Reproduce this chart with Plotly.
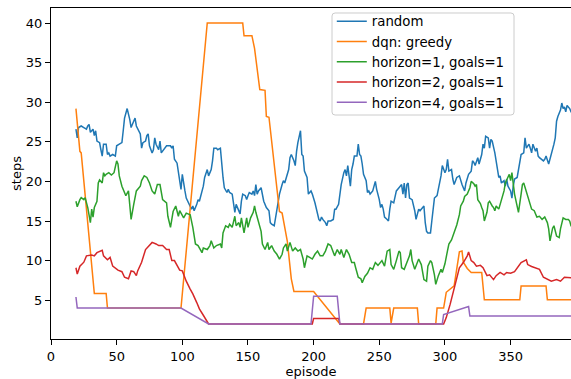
import plotly.graph_objects as go

# ---------------- data (rolling-mean steps per episode) ----------------
random_x = [19, 20, 21, 23, 25, 27, 28, 29, 30, 32, 33, 34, 35, 37, 38, 39, 40, 42, 43, 44, 45, 47, 49, 50, 52, 54, 55, 56, 58, 59,
            60, 61, 63, 64, 65, 67, 68, 69, 70, 72, 73, 74, 75, 77, 78, 79, 80, 82, 83, 84, 86, 87, 88, 91, 92, 93, 94, 96, 97, 98,
            99, 100, 101, 102, 103, 105, 107, 108, 109, 111, 112, 113, 115, 116, 117, 118, 119, 120, 122, 123, 124, 126, 127, 129,
            130, 131, 132, 134, 135, 136, 138, 139, 140, 141, 143, 144, 145, 146, 148, 149, 150, 151, 153, 154, 155, 156, 157, 158,
            160, 161, 162, 164, 166, 167, 168, 170, 171, 173, 174, 176, 177, 178, 179, 181, 182, 183, 185, 186, 187, 188, 190, 191,
            192, 193, 195, 196, 198, 199, 201, 202, 204, 205, 206, 207, 209, 210, 211, 213, 215, 216, 217, 219, 220, 221, 223, 224,
            225, 226, 228, 229, 230, 231, 233, 234, 235, 236, 237, 238, 240, 241, 242, 243, 245, 247, 248, 249, 250, 251, 252, 253,
            254, 256, 257, 258, 259, 261, 262, 263, 265, 266, 267, 268, 269, 270, 271, 272, 273, 275, 276, 277, 278, 280, 281, 282,
            284, 285, 286, 287, 289, 290, 291, 292, 294, 295, 296, 297, 298, 300, 301, 302, 303, 305, 306, 307, 309, 311, 313, 315,
            316, 318, 320, 321, 322, 323, 325, 326, 328, 329, 330, 331, 333, 334, 335, 336, 338, 339, 340, 341, 342, 343, 345, 346,
            347, 348, 350, 351, 352, 353, 355, 356, 357, 358, 360, 361, 362, 364, 365, 366, 367, 369, 370, 371, 372, 374, 375, 376,
            377, 379, 380, 381, 383, 384, 385, 386, 388, 389, 390, 391, 392, 393, 395, 396, 399]
random_y = [26.6, 25.5, 26.8, 27.0, 26.8, 26.6, 27.0, 27.2, 26.2, 26.6, 25.8, 26.4, 25.1, 24.9, 24.0, 23.2, 24.7, 24.7, 23.4, 23.6,
            23.2, 23.4, 23.2, 24.5, 24.7, 24.9, 26.4, 28.0, 29.2, 28.6, 27.8, 26.8, 27.6, 28.0, 27.0, 26.4, 26.0, 24.2, 24.9, 25.1,
            25.8, 26.0, 24.5, 23.6, 24.0, 25.5, 24.7, 24.0, 25.1, 23.6, 24.0, 24.2, 24.5, 24.5, 24.2, 24.5, 22.8, 22.3, 21.3, 20.4,
            19.0, 20.9, 19.6, 18.8, 17.9, 17.1, 16.5, 16.9, 16.3, 17.1, 17.7, 17.5, 18.8, 19.4, 20.5, 20.9, 21.5, 20.7, 21.5, 22.6,
            24.2, 24.2, 24.0, 24.2, 22.1, 20.5, 19.2, 18.6, 19.0, 18.6, 18.4, 17.1, 16.1, 17.1, 16.3, 15.9, 17.5, 18.4, 18.2, 17.7,
            18.2, 18.6, 18.4, 18.8, 18.2, 19.6, 18.4, 18.8, 19.2, 18.4, 17.5, 16.7, 16.3, 14.8, 14.6, 14.4, 15.5, 17.5, 18.4, 19.6,
            20.1, 19.8, 20.3, 21.5, 23.0, 23.4, 22.6, 22.0, 23.8, 24.9, 26.4, 23.4, 23.2, 21.3, 20.5, 18.4, 18.8, 18.4, 17.3, 16.5,
            15.2, 15.0, 15.5, 15.2, 14.8, 14.4, 15.0, 15.0, 15.2, 16.5, 16.5, 17.1, 18.4, 19.6, 21.1, 21.5, 20.7, 22.0, 19.4, 21.5,
            22.2, 23.2, 23.2, 24.7, 23.4, 23.2, 22.2, 20.9, 20.1, 18.6, 18.8, 18.4, 18.8, 20.0, 19.0, 18.4, 17.7, 16.7, 17.1, 16.5,
            15.5, 15.2, 15.0, 16.5, 17.5, 17.3, 17.9, 18.8, 19.2, 19.4, 19.6, 18.4, 19.8, 17.9, 19.6, 19.8, 17.9, 17.7, 17.1, 16.3,
            15.2, 16.5, 16.3, 16.5, 16.9, 14.8, 13.7, 13.5, 13.5, 15.0, 16.5, 17.9, 18.2, 19.0, 20.1, 20.7, 22.0, 21.1, 21.5, 22.8,
            21.3, 21.5, 20.3, 19.6, 20.5, 20.7, 19.6, 18.8, 19.8, 20.9, 21.3, 22.6, 22.4, 22.0, 23.0, 22.2, 23.4, 24.7, 24.2, 25.7,
            25.5, 24.2, 25.3, 25.1, 23.6, 22.6, 22.0, 20.5, 20.7, 19.8, 20.1, 19.4, 20.3, 19.4, 18.8, 17.9, 19.4, 20.3, 20.5, 21.5,
            22.2, 23.4, 23.6, 25.5, 24.2, 24.7, 24.2, 23.6, 24.7, 23.8, 24.2, 23.2, 23.0, 22.8, 22.6, 22.8, 23.2, 22.2, 22.8, 23.2,
            24.7, 25.5, 27.6, 28.2, 29.0, 29.9, 29.2, 29.4, 28.8, 29.6, 29.2, 28.8, 29.0]

dqn_x = [19, 22, 23, 33, 42, 43, 99, 119, 146, 147, 153, 155, 159, 163, 164, 166, 174, 176, 180, 183, 185, 200, 220, 238, 240,
         258, 259, 261, 279, 280, 293, 294, 299, 301, 307, 309, 311, 313, 314, 317, 320, 328, 330, 357, 358, 377, 378, 399]
dqn_y = [29.2, 23.8, 23.6, 5.85, 5.85, 4.0, 4.0, 40.0, 40.0, 38.4, 38.4, 36.8, 31.6, 31.5, 28.2, 28.1, 16.2, 16.0, 12.4, 7.7,
         6.1, 6.1, 2.0, 2.0, 4.0, 4.0, 2.1, 4.0, 4.0, 2.0, 2.0, 4.0, 4.0, 6.0, 6.8, 8.9, 11.1, 11.2, 9.8, 9.0, 8.5, 8.5, 5.05,
         5.05, 6.8, 6.8, 5.05, 5.05]

h1_x = [19, 20, 22, 23, 25, 26, 28, 30, 31, 32, 33, 35, 36, 37, 39, 40, 41, 42, 44, 46, 48, 50, 51, 52, 54, 56, 57, 59, 60, 61,
        63, 65, 68, 69, 71, 73, 75, 77, 79, 81, 83, 85, 88, 89, 91, 93, 95, 97, 98, 101, 103, 106, 108, 110, 112, 115, 116, 119,
        121, 122, 124, 126, 129, 130, 131, 133, 135, 136, 138, 140, 141, 143, 144, 145, 147, 149, 150, 152, 154, 155, 156, 158,
        160, 161, 163, 165, 166, 168, 170, 172, 174, 176, 177, 179, 180, 182, 184, 186, 188, 190, 192, 193, 195, 197, 199, 201,
        203, 205, 207, 209, 211, 213, 215, 216, 218, 220, 221, 223, 225, 227, 229, 231, 232, 234, 236, 237, 239, 241, 243, 245,
        247, 249, 252, 254, 256, 258, 259, 261, 263, 265, 266, 267, 269, 271, 273, 274, 275, 277, 279, 280, 282, 284, 286, 287,
        289, 290, 292, 293, 295, 297, 298, 300, 302, 303, 305, 307, 308, 309, 311, 312, 314, 315, 317, 319, 320, 322, 323, 324,
        325, 327, 328, 329, 330, 332, 333, 334, 336, 337, 338, 339, 341, 342, 343, 345, 346, 348, 349, 350, 351, 353, 356, 358,
        359, 360, 362, 364, 366, 368, 370, 372, 374, 376, 378, 379, 380, 382, 383, 385, 387, 388, 390, 392, 394, 395, 396, 399]
h1_y = [17.5, 16.8, 17.7, 17.95, 17.7, 17.95, 16.7, 14.8, 16.5, 15.5, 16.7, 17.5, 19.8, 20.2, 19.8, 21.1, 20.7, 20.9, 21.1, 20.8,
        21.1, 22.6, 22.2, 20.7, 19.4, 18.4, 18.2, 18.8, 16.9, 15.2, 17.1, 18.8, 19.4, 20.1, 20.7, 20.5, 19.8, 18.8, 18.4, 19.6,
        19.6, 17.7, 17.3, 15.6, 14.2, 16.2, 16.9, 15.6, 16.3, 15.4, 16.0, 15.8, 14.2, 12.1, 11.9, 11.0, 11.6, 11.4, 11.9, 12.5,
        11.6, 11.9, 12.1, 11.6, 13.5, 14.4, 14.2, 14.6, 14.2, 15.6, 14.4, 14.8, 14.2, 15.4, 13.5, 15.4, 14.2, 15.4, 16.1, 16.9,
        16.1, 14.8, 13.7, 12.1, 11.4, 12.3, 11.4, 11.9, 11.2, 10.8, 10.2, 10.8, 11.6, 12.1, 11.2, 12.3, 11.2, 11.6, 11.2, 11.4,
        10.2, 9.1, 10.6, 10.4, 10.2, 10.8, 11.2, 10.6, 10.6, 11.2, 12.1, 11.9, 11.0, 10.6, 11.4, 10.8, 11.4, 10.4, 11.4, 10.8,
        9.75, 9.75, 9.1, 7.9, 7.7, 7.2, 8.0, 8.4, 9.1, 8.9, 9.75, 9.4, 10.0, 9.3, 11.2, 11.4, 9.5, 8.9, 10.0, 11.2, 11.0, 9.1,
        8.9, 9.75, 10.6, 11.4, 10.0, 8.9, 9.75, 10.2, 9.5, 7.6, 7.4, 9.3, 10.0, 9.75, 8.2, 7.0, 8.1, 8.9, 8.5, 9.6, 11.3, 12.1,
        12.6, 13.5, 14.2, 14.5, 15.8, 16.9, 17.5, 18.1, 18.4, 19.2, 20.0, 19.7, 19.4, 19.6, 17.7, 17.2, 16.7, 16.3, 15.0, 16.1,
        17.3, 17.5, 16.9, 16.7, 16.3, 16.9, 16.5, 17.1, 17.9, 18.8, 19.8, 20.7, 20.9, 20.1, 21.1, 18.4, 16.1, 18.4, 19.6, 19.8,
        18.8, 17.5, 16.5, 16.3, 15.5, 15.6, 15.2, 15.5, 14.8, 14.0, 12.5, 14.1, 14.4, 13.1, 12.9, 14.0, 15.4, 15.2, 15.2, 15.0,
        14.4, 14.0, 13.8]

h2_x = [19, 20, 22, 25, 27, 31, 33, 35, 39, 40, 43, 45, 47, 51, 54, 56, 59, 61, 63, 65, 66, 69, 72, 74, 77, 80, 82, 85, 88, 90,
        92, 94, 96, 98, 100, 103, 106, 108, 111, 113, 116, 120, 199, 200, 219, 220, 299, 301, 304, 306, 309, 311, 314, 317, 318,
        320, 322, 324, 327, 329, 332, 334, 337, 339, 342, 345, 347, 350, 353, 356, 358, 362, 363, 366, 369, 372, 375, 378, 381,
        385, 388, 391, 395, 399]
h2_y = [9.1, 8.3, 9.3, 9.8, 10.6, 10.7, 10.6, 11.0, 11.3, 10.6, 10.1, 10.4, 9.3, 8.8, 8.6, 7.9, 7.7, 8.7, 8.6, 8.1, 8.7, 9.8,
        11.4, 11.8, 12.3, 12.1, 11.9, 11.9, 11.4, 11.4, 10.0, 10.0, 9.3, 8.8, 8.7, 7.4, 6.4, 5.8, 4.7, 3.9, 3.1, 2.0, 2.0, 2.7,
        2.7, 2.0, 2.0, 2.8, 4.5, 5.8, 7.6, 9.1, 9.75, 10.6, 11.1, 10.0, 9.75, 9.3, 9.4, 9.1, 8.1, 8.2, 7.6, 8.1, 8.5, 8.2, 8.5,
        8.4, 8.6, 9.3, 9.75, 10.1, 9.5, 9.25, 9.1, 8.9, 7.9, 7.6, 7.4, 7.6, 7.4, 7.9, 7.9, 7.8]

h4_x = [19, 20, 99, 120, 198, 200, 218, 220, 298, 299, 318, 319, 399]
h4_y = [5.4, 4.0, 4.0, 2.0, 2.0, 5.5, 5.5, 2.0, 2.0, 3.2, 4.2, 3.0, 3.0]

series_names = ["random", "dqn: greedy", "horizon=1, goals=1", "horizon=2, goals=1", "horizon=4, goals=1"]
series_colors = ["#1f77b4", "#ff7f0e", "#2ca02c", "#d62728", "#9467bd"]
x_ticks = [0, 50, 100, 150, 200, 250, 300, 350]
y_ticks = [5, 10, 15, 20, 25, 30, 35, 40]

# ---------------- figure ----------------
FONT = "DejaVu Sans"
fig = go.Figure()
for xs, ys, name, color in zip([random_x, dqn_x, h1_x, h2_x, h4_x],
                               [random_y, dqn_y, h1_y, h2_y, h4_y],
                               series_names, series_colors):
    fig.add_trace(go.Scatter(x=xs, y=ys, mode="lines", name=name,
                             line=dict(color=color, width=1.5)))

axis_common = dict(showline=True, linecolor="black", linewidth=1, ticks="outside",
                   ticklen=5, tickwidth=1, tickcolor="black", showgrid=False, zeroline=False,
                   tickfont=dict(family=FONT, size=13, color="black"))

# legend frame (matplotlib-style rounded box), in paper coordinates
bx0, bx1, by0, by1 = 0.5404, 0.8904, 0.6767, 0.9849
rx, ry = 0.006, 0.009
frame_path = (f"M {bx0+rx},{by1} L {bx1-rx},{by1} Q {bx1},{by1} {bx1},{by1-ry} "
              f"L {bx1},{by0+ry} Q {bx1},{by0} {bx1-rx},{by0} L {bx0+rx},{by0} "
              f"Q {bx0},{by0} {bx0},{by0+ry} L {bx0},{by1-ry} Q {bx0},{by1} {bx0+rx},{by1} Z")

fig.update_layout(
    width=571, height=379,
    margin=dict(l=51, r=0, t=8, b=40),
    paper_bgcolor="white", plot_bgcolor="white",
    font=dict(family=FONT, size=13, color="black"),
    xaxis=dict(range=[0, 396], tickvals=x_ticks, mirror=True,
               title=dict(text="episode", font=dict(family=FONT, size=13), standoff=2),
               **axis_common),
    yaxis=dict(range=[0.1, 41.9], tickvals=y_ticks,
               title=dict(text="steps", font=dict(family=FONT, size=13), standoff=1),
               **axis_common),
    shapes=[dict(type="path", xref="paper", yref="paper", path=frame_path,
                 fillcolor="rgba(255,255,255,0.8)", line=dict(color="#cccccc", width=1),
                 layer="above")],
    legend=dict(x=0.54, y=1.006, xanchor="left", yanchor="top",
                bgcolor="rgba(0,0,0,0)", borderwidth=0,
                font=dict(family=FONT, size=13.3, color="black"), tracegroupgap=0),
    showlegend=True,
)

fig.write_html("out.html")
